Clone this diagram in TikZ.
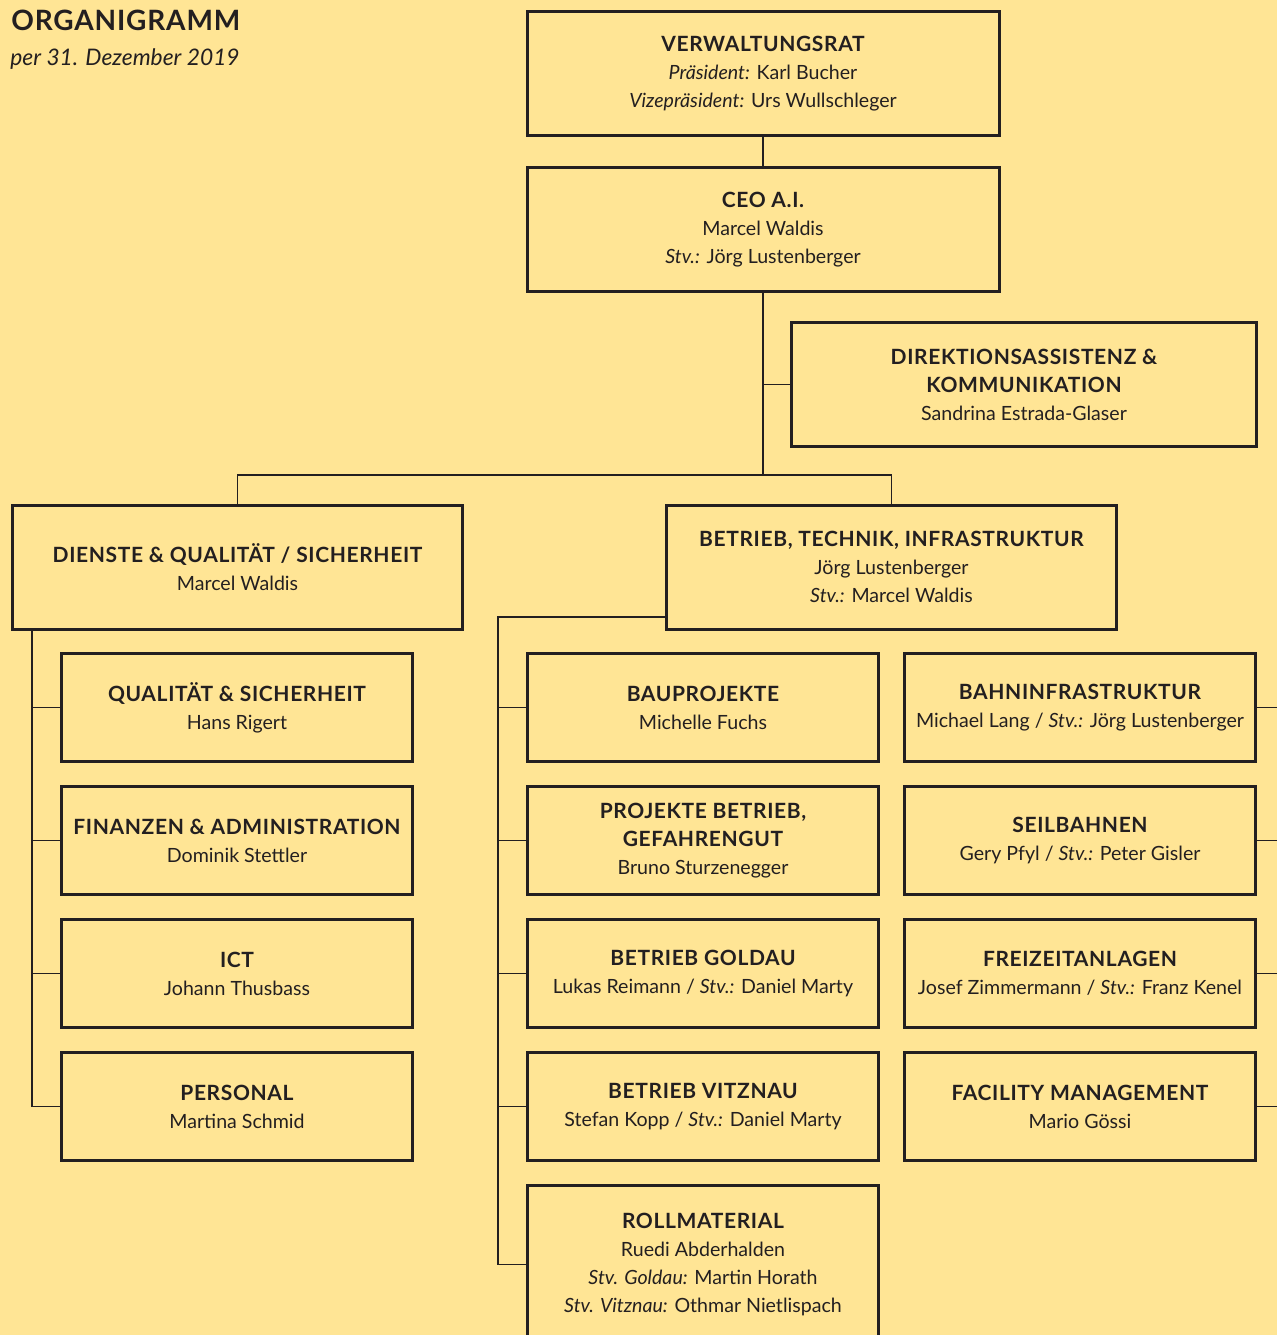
\documentclass[tikz,border=0pt]{standalone}
\usepackage{fontspec}
\setmainfont{Lato}
\newfontfamily\headfont{Lato}[LetterSpace=3]
\usetikzlibrary{positioning}

\definecolor{paper}{HTML}{FFE595}
\definecolor{ink}{HTML}{231F20}
\newcommand{\unithead}[1]{{\headfont\bfseries\fontsize{10.5}{14}\selectfont #1}}
\newcommand{\role}[1]{\textit{#1}}

\begin{document}
\begin{tikzpicture}[x=0.5pt, y=-0.5pt,
  font=\fontsize{9.8}{14}\selectfont, text=ink,
  top/.style={draw=ink, line width=1.5pt, align=center, inner sep=2pt, minimum width=236pt, minimum height=62pt},
  dept/.style={top, minimum width=225pt},
  unit/.style={top, minimum width=175.5pt, minimum height=54pt},
  link/.style={draw=ink, line width=0.6pt}]

  \useasboundingbox (0,0) rectangle (1277,1335);
  \fill[paper] (0,0) rectangle (1277,1335);

  % --- title ---
  \node[anchor=base west, inner sep=0, font=\fontsize{14}{16}\selectfont] (title) at (11,30) {{\headfont\bfseries ORGANIGRAMM}};
  \node[anchor=base west, inner sep=0, font=\fontsize{11.4}{14}\selectfont\itshape] (date) at (10,65) {per 31. Dezember 2019};

  % --- board and management ---
  \node[top] (vr) at (763,73.5) {\unithead{VERWALTUNGSRAT}\\\role{Präsident:} Karl Bucher\\\role{Vizepräsident:} Urs Wullschleger};
  \node[top, below=14.5pt of vr] (ceo) {\unithead{CEO A.I.}\\Marcel Waldis\\\role{Stv.:} Jörg Lustenberger};
  \node[top, minimum width=232.5pt] (dir) at (1024,384.5) {\unithead{DIREKTIONSASSISTENZ \&}\\\unithead{KOMMUNIKATION}\\Sandrina Estrada-Glaser};

  % --- departments ---
  \node[dept] (dqs) at (237.5,567) {\unithead{DIENSTE \& QUALITÄT / SICHERHEIT}\\Marcel Waldis};
  \node[dept] (bti) at (891.5,567) {\unithead{BETRIEB, TECHNIK, INFRASTRUKTUR}\\Jörg Lustenberger\\\role{Stv.:} Marcel Waldis};

  % --- left column ---
  \node[unit] (qs) at (237,707.5) {\unithead{QUALITÄT \& SICHERHEIT}\\Hans Rigert};
  \node[unit, below=11pt of qs] (fin) {\unithead{FINANZEN \& ADMINISTRATION}\\Dominik Stettler};
  \node[unit, below=11pt of fin] (ict) {\unithead{ICT}\\Johann Thusbass};
  \node[unit, below=11pt of ict] (pers) {\unithead{PERSONAL}\\Martina Schmid};

  % --- middle column ---
  \node[unit] (bau) at (703,707.5) {\unithead{BAUPROJEKTE}\\Michelle Fuchs};
  \node[unit, below=11pt of bau] (pbg) {\unithead{PROJEKTE BETRIEB,}\\\unithead{GEFAHRENGUT}\\Bruno Sturzenegger};
  \node[unit, below=11pt of pbg] (gold) {\unithead{BETRIEB GOLDAU}\\Lukas Reimann / \role{Stv.:} Daniel Marty};
  \node[unit, below=11pt of gold] (vitz) {\unithead{BETRIEB VITZNAU}\\Stefan Kopp / \role{Stv.:} Daniel Marty};
  \node[unit, below=11pt of vitz, minimum height=79pt] (roll) {\unithead{ROLLMATERIAL}\\Ruedi Abderhalden\\\role{Stv. Goldau:} Martin Horath\\\role{Stv. Vitznau:} Othmar Nietlispach};

  % --- right column ---
  \node[unit, right=11.5pt of bau] (bahn) {\unithead{BAHNINFRASTRUKTUR}\\Michael Lang / \role{Stv.:} Jörg Lustenberger};
  \node[unit, right=11.5pt of pbg] (seil) {\unithead{SEILBAHNEN}\\Gery Pfyl / \role{Stv.:} Peter Gisler};
  \node[unit, right=11.5pt of gold] (frei) {\unithead{FREIZEITANLAGEN}\\Josef Zimmermann / \role{Stv.:} Franz Kenel};
  \node[unit, right=11.5pt of vitz] (fac) {\unithead{FACILITY MANAGEMENT}\\Mario Gössi};

  % --- connectors ---
  \coordinate (jn) at (763,475);
  \coordinate (lx) at (32,0);
  \coordinate (mtop) at (498,617);
  \coordinate (rx) at (1290,0);

  \draw[link] (vr) -- (ceo);
  \draw[link] (ceo.south) -- (jn);
  \draw[link] (ceo.south |- dir.west) -- (dir.west);
  \draw[link] (dqs.north) |- (jn) -| (bti.north);

  \draw[link] (lx |- dqs.south) |- (pers.west);
  \draw[link] (lx |- qs.west) -- (qs.west);
  \draw[link] (lx |- fin.west) -- (fin.west);
  \draw[link] (lx |- ict.west) -- (ict.west);

  \draw[link] (mtop -| bti.west) -- (mtop) |- (roll.west);
  \draw[link] (mtop |- bau.west) -- (bau.west);
  \draw[link] (mtop |- pbg.west) -- (pbg.west);
  \draw[link] (mtop |- gold.west) -- (gold.west);
  \draw[link] (mtop |- vitz.west) -- (vitz.west);

  \draw[link] (bahn.east) -- (rx |- bahn.east);
  \draw[link] (seil.east) -- (rx |- seil.east);
  \draw[link] (frei.east) -- (rx |- frei.east);
  \draw[link] (fac.east) -- (rx |- fac.east);
\end{tikzpicture}
\end{document}
